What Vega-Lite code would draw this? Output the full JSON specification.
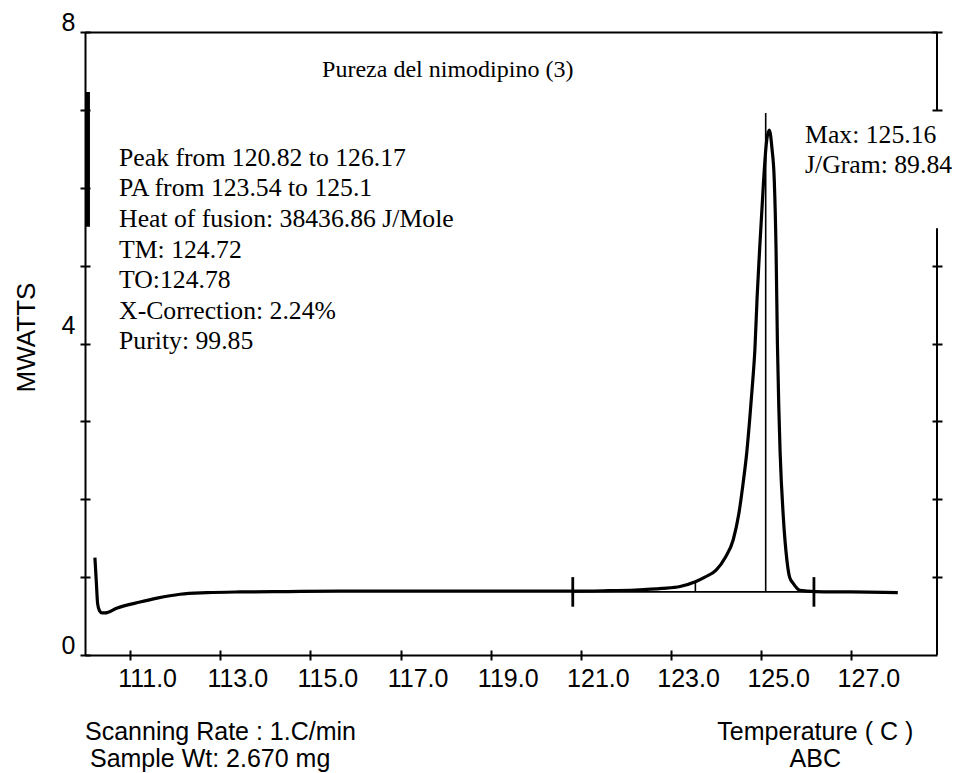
{
  "$schema": "https://vega.github.io/schema/vega-lite/v6.json",
  "width": 852,
  "height": 623,
  "autosize": {"type": "none"},
  "padding": {"left": 85, "top": 32, "right": 19, "bottom": 118},
  "background": "white",
  "config": {
    "view": {"stroke": null},
    "axis": {"grid": false, "domainColor": "black", "tickColor": "black", "labelColor": "black", "titleColor": "black"}
  },
  "datasets": {
    "trace": [
      {"T": 110.22, "mW": 1.25}, {"T": 110.25, "mW": 0.95}, {"T": 110.28, "mW": 0.66},
      {"T": 110.32, "mW": 0.57}, {"T": 110.38, "mW": 0.54}, {"T": 110.45, "mW": 0.54},
      {"T": 110.7, "mW": 0.6}, {"T": 111.22, "mW": 0.68}, {"T": 111.6, "mW": 0.73},
      {"T": 112.11, "mW": 0.78}, {"T": 112.7, "mW": 0.8}, {"T": 113.44, "mW": 0.81},
      {"T": 114.5, "mW": 0.815}, {"T": 115.66, "mW": 0.82}, {"T": 117.5, "mW": 0.82},
      {"T": 119.5, "mW": 0.82}, {"T": 120.8, "mW": 0.82}, {"T": 121.5, "mW": 0.825},
      {"T": 122.2, "mW": 0.835}, {"T": 122.8, "mW": 0.855}, {"T": 123.2, "mW": 0.88},
      {"T": 123.54, "mW": 0.94}, {"T": 123.75, "mW": 1.0}, {"T": 124.0, "mW": 1.09},
      {"T": 124.2, "mW": 1.25}, {"T": 124.38, "mW": 1.48}, {"T": 124.5, "mW": 1.8},
      {"T": 124.6, "mW": 2.21}, {"T": 124.68, "mW": 2.6}, {"T": 124.75, "mW": 3.06},
      {"T": 124.81, "mW": 3.5}, {"T": 124.86, "mW": 3.92}, {"T": 124.91, "mW": 4.6},
      {"T": 124.96, "mW": 5.15}, {"T": 125.05, "mW": 6.06}, {"T": 125.12, "mW": 6.6},
      {"T": 125.18, "mW": 6.74}, {"T": 125.24, "mW": 6.5}, {"T": 125.29, "mW": 6.1},
      {"T": 125.33, "mW": 5.2}, {"T": 125.36, "mW": 4.0}, {"T": 125.39, "mW": 3.2},
      {"T": 125.42, "mW": 2.6}, {"T": 125.49, "mW": 1.78}, {"T": 125.57, "mW": 1.22},
      {"T": 125.63, "mW": 1.0}, {"T": 125.71, "mW": 0.92}, {"T": 125.86, "mW": 0.83},
      {"T": 126.2, "mW": 0.815}, {"T": 127.0, "mW": 0.81}, {"T": 128.03, "mW": 0.8}
    ],
    "marks": [
      {"kind": "baseline", "T": 120.82, "T2": 126.17, "mW": 0.81, "mW2": 0.81},
      {"kind": "peakline", "T": 125.1, "T2": 125.1, "mW": 0.81, "mW2": 6.96},
      {"kind": "pa", "T": 123.54, "T2": 123.54, "mW": 0.81, "mW2": 0.95},
      {"kind": "limit", "T": 120.82, "T2": 120.82, "mW": 0.62, "mW2": 1.0},
      {"kind": "limit", "T": 126.17, "T2": 126.17, "mW": 0.62, "mW2": 1.0},
      {"kind": "transient", "T": 110.06, "T2": 110.06, "mW": 5.5, "mW2": 7.23}
    ],
    "frame": [
      {"T": 128.9, "mW": 8, "mW2": 7},
      {"T": 128.9, "mW": 5.48, "mW2": 0}
    ],
    "notes": [
      {"group": "title", "label": "Pureza del nimodipino (3)", "T": 115.26, "mW": 7.42},
      {"group": "stats", "label": "Peak from 120.82 to 126.17", "T": 110.756, "mW": 6.279},
      {"group": "stats", "label": "PA from 123.54 to 125.1", "T": 110.756, "mW": 5.888},
      {"group": "stats", "label": "Heat of fusion: 38436.86 J/Mole", "T": 110.756, "mW": 5.496},
      {"group": "stats", "label": "TM: 124.72", "T": 110.756, "mW": 5.104},
      {"group": "stats", "label": "TO:124.78", "T": 110.756, "mW": 4.713},
      {"group": "stats", "label": "X-Correction: 2.24%", "T": 110.756, "mW": 4.321},
      {"group": "stats", "label": "Purity: 99.85", "T": 110.756, "mW": 3.929},
      {"group": "stats", "label": "Max: 125.16", "T": 125.974, "mW": 6.575},
      {"group": "stats", "label": "J/Gram: 89.84", "T": 125.974, "mW": 6.19},
      {"group": "footLeft", "label": "Scanning Rate : 1.C/min", "T": 110.0, "mW": -1.09},
      {"group": "footLeft", "label": "Sample Wt: 2.670 mg", "T": 110.11, "mW": -1.438},
      {"group": "footCenter", "label": "Temperature ( C )", "T": 126.2, "mW": -1.09},
      {"group": "footCenter", "label": "ABC", "T": 126.2, "mW": -1.438}
    ]
  },
  "layer": [
    {
      "data": {"name": "trace"},
      "mark": {"type": "line", "color": "black", "strokeWidth": 3.2, "interpolate": "monotone"},
      "encoding": {
        "x": {
          "field": "T", "type": "quantitative",
          "scale": {"domain": [110, 128.9], "nice": false, "zero": false},
          "axis": {
            "orient": "bottom", "offset": -5, "tickSize": 10, "tickWidth": 2, "domain": false,
            "values": [111, 113, 115, 117, 119, 121, 123, 125, 127], "format": ".1f",
            "labelOffset": 17, "labelPadding": 6, "labelFont": "Liberation Sans", "labelFontSize": 25,
            "labelFlush": false, "labelOverlap": false, "title": null
          }
        },
        "y": {
          "field": "mW", "type": "quantitative",
          "scale": {"domain": [0, 8], "nice": false, "zero": false},
          "axis": {
            "orient": "left", "offset": -5, "tickSize": 10, "tickWidth": 2, "domain": false,
            "values": [0, 1, 2, 3, 4, 5, 6, 7, 8],
            "labelExpr": "datum.value % 4 === 0 ? datum.label : ''",
            "labelFont": "Liberation Sans", "labelFontSize": 25, "labelPadding": 5,
            "labelBaseline": "alphabetic",
            "labelOffset": {"condition": {"test": "datum.value === 4", "value": -10}, "value": -2},
            "labelFlush": false, "labelOverlap": false,
            "title": "MWATTS", "titleFont": "Liberation Sans", "titleFontSize": 26,
            "titleFontWeight": "normal", "titlePadding": 22, "titleY": 305
          }
        }
      }
    },
    {
      "data": {"name": "marks"},
      "transform": [{"filter": "datum.kind === 'baseline' || datum.kind === 'peakline' || datum.kind === 'pa'"}],
      "mark": {"type": "rule", "color": "black", "strokeWidth": 1.6},
      "encoding": {
        "x": {"field": "T", "type": "quantitative",
          "axis": {"orient": "bottom", "domain": true, "domainWidth": 2, "ticks": false, "labels": false, "title": null}},
        "x2": {"field": "T2"},
        "y": {"field": "mW", "type": "quantitative",
          "axis": {"orient": "left", "domain": true, "domainWidth": 2, "ticks": false, "labels": false, "title": null}},
        "y2": {"field": "mW2"}
      }
    },
    {
      "data": {"name": "marks"},
      "transform": [{"filter": "datum.kind === 'limit'"}],
      "mark": {"type": "rule", "color": "black", "strokeWidth": 2.8},
      "encoding": {
        "x": {"field": "T", "type": "quantitative", "axis": null},
        "x2": {"field": "T2"},
        "y": {"field": "mW", "type": "quantitative", "axis": null},
        "y2": {"field": "mW2"}
      }
    },
    {
      "data": {"name": "marks"},
      "transform": [{"filter": "datum.kind === 'transient'"}],
      "mark": {"type": "rule", "color": "black", "strokeWidth": 4.5},
      "encoding": {
        "x": {"field": "T", "type": "quantitative", "axis": null},
        "x2": {"field": "T2"},
        "y": {"field": "mW", "type": "quantitative", "axis": null},
        "y2": {"field": "mW2"}
      }
    },
    {
      "data": {"name": "frame"},
      "mark": {"type": "rule", "color": "black", "strokeWidth": 2},
      "encoding": {
        "x": {"field": "T", "type": "quantitative",
          "axis": {"orient": "top", "domain": true, "domainWidth": 2, "ticks": false, "labels": false, "title": null}},
        "y": {"field": "mW", "type": "quantitative",
          "axis": {"orient": "right", "offset": -5, "tickSize": 10, "tickWidth": 2, "domain": false,
            "values": [1, 2, 3, 4, 5, 7, 8], "labels": false, "title": null}},
        "y2": {"field": "mW2"}
      }
    },
    {
      "data": {"name": "notes"},
      "transform": [{"filter": "datum.group === 'title'"}],
      "mark": {"type": "text", "align": "left", "baseline": "alphabetic", "font": "Liberation Serif", "fontSize": 24, "color": "black"},
      "encoding": {
        "x": {"field": "T", "type": "quantitative", "axis": null},
        "y": {"field": "mW", "type": "quantitative", "axis": null},
        "text": {"field": "label"}
      }
    },
    {
      "data": {"name": "notes"},
      "transform": [{"filter": "datum.group === 'stats'"}],
      "mark": {"type": "text", "align": "left", "baseline": "alphabetic", "font": "Liberation Serif", "fontSize": 25.7, "color": "black"},
      "encoding": {
        "x": {"field": "T", "type": "quantitative", "axis": null},
        "y": {"field": "mW", "type": "quantitative", "axis": null},
        "text": {"field": "label"}
      }
    },
    {
      "data": {"name": "notes"},
      "transform": [{"filter": "datum.group === 'footLeft'"}],
      "mark": {"type": "text", "align": "left", "baseline": "alphabetic", "font": "Liberation Sans", "fontSize": 25, "color": "black"},
      "encoding": {
        "x": {"field": "T", "type": "quantitative", "axis": null},
        "y": {"field": "mW", "type": "quantitative", "axis": null},
        "text": {"field": "label"}
      }
    },
    {
      "data": {"name": "notes"},
      "transform": [{"filter": "datum.group === 'footCenter'"}],
      "mark": {"type": "text", "align": "center", "baseline": "alphabetic", "font": "Liberation Sans", "fontSize": 25, "color": "black"},
      "encoding": {
        "x": {"field": "T", "type": "quantitative", "axis": null},
        "y": {"field": "mW", "type": "quantitative", "axis": null},
        "text": {"field": "label"}
      }
    }
  ],
  "resolve": {"axis": {"x": "independent", "y": "independent"}}
}
